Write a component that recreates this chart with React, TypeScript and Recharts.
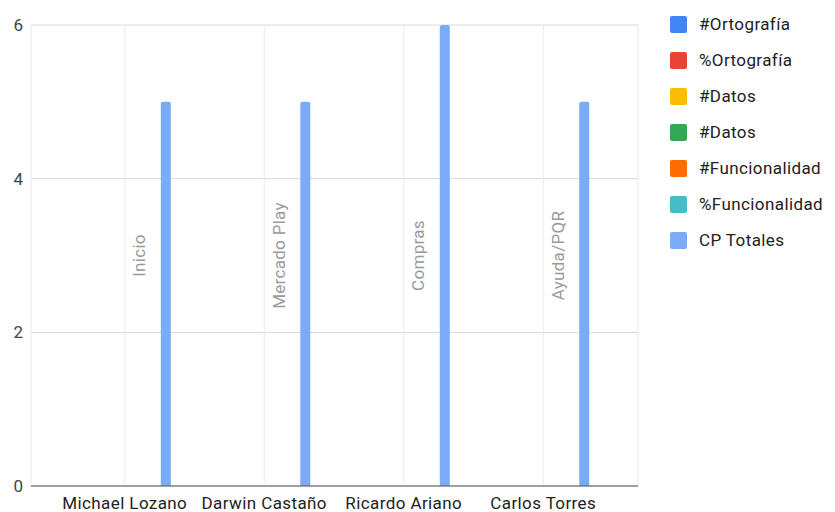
import React from 'react';
import { BarChart, Bar, XAxis, YAxis, CartesianGrid, Legend, LabelList } from 'recharts';

const categories = ['Michael Lozano', 'Darwin Castaño', 'Ricardo Ariano', 'Carlos Torres'];
const pages = ['Inicio', 'Mercado Play', 'Compras', 'Ayuda/PQR'];
const ortografiaNum = [0, 0, 0, 0];
const ortografiaPct = [0, 0, 0, 0];
const datosNum = [0, 0, 0, 0];
const datosNum2 = [0, 0, 0, 0];
const funcionalidadNum = [0, 0, 0, 0];
const funcionalidadPct = [0, 0, 0, 0];
const cpTotales = [5, 5, 6, 5];
const yTicks = [0, 2, 4, 6];

const seriesNames = ['#Ortografía', '%Ortografía', '#Datos', '#Datos', '#Funcionalidad', '%Funcionalidad', 'CP Totales'];
const seriesKeys = ['ortNum', 'ortPct', 'datNum', 'datNum2', 'funNum', 'funPct', 'cp'];
const seriesColors = ['#4285F4', '#EA4335', '#FBBC04', '#34A853', '#FF6D01', '#46BDC6', '#7BAAF7'];

const data = categories.map((c, i) => ({
  name: c,
  page: pages[i],
  ortNum: ortografiaNum[i],
  ortPct: ortografiaPct[i],
  datNum: datosNum[i],
  datNum2: datosNum2[i],
  funNum: funcionalidadNum[i],
  funPct: funcionalidadPct[i],
  cp: cpTotales[i],
}));

const FONT = 'Roboto, Arial, sans-serif';
const PLOT_TOP = 25;
const BAR_SIZE = 10;
const BAR_GAP = 3.8;
// the page labels sit on the #Funcionalidad slot, two slots left of CP Totales
const LABEL_SLOT_SHIFT = 2;

const PageLabel = (props: any) => {
  const vb = props.viewBox && props.viewBox.width !== undefined ? props.viewBox : props;
  const x = Number(vb.x);
  const y = Number(vb.y);
  const w = Number(vb.width);
  const h = Number(vb.height) || 0;
  const cx = x + w / 2 - LABEL_SLOT_SHIFT * (BAR_SIZE + BAR_GAP) + 1;
  const base = y + h;
  const cy = (PLOT_TOP + base) / 2;
  return (
    <text
      x={cx}
      y={cy}
      transform={`rotate(-90 ${cx} ${cy})`}
      textAnchor="middle"
      dominantBaseline="central"
      fill="#9a9a9a"
      fontSize={17}
      letterSpacing={0.3}
      fontFamily={FONT}
    >
      {props.value}
    </text>
  );
};

const renderLegend = (props: any) => {
  const payload = [...(props.payload || [])].sort(
    (a: any, b: any) => seriesKeys.indexOf(a.dataKey) - seriesKeys.indexOf(b.dataKey)
  );
  return (
    <div style={{ width: 197, paddingLeft: 32, boxSizing: 'border-box' }}>
      {payload.map((p: any, i: number) => (
        <div key={i} style={{ display: 'flex', alignItems: 'center', height: 36 }}>
          <span
            style={{
              display: 'inline-block',
              width: 17,
              height: 17,
              background: p.color,
              borderRadius: 2,
              marginRight: 12,
              flexShrink: 0,
            }}
          />
          <span
            style={{
              fontSize: 17,
              color: '#222',
              fontFamily: FONT,
              whiteSpace: 'nowrap',
              letterSpacing: 0.4,
            }}
          >
            {p.value}
          </span>
        </div>
      ))}
    </div>
  );
};

export default function App() {
  return (
    <div style={{ position: 'absolute', left: 0, top: 0, background: '#fff' }}>
      <BarChart
        width={835}
        height={512}
        data={data}
        margin={{ top: PLOT_TOP, right: 0, bottom: 0, left: 0 }}
        barSize={BAR_SIZE}
        barGap={BAR_GAP}
      >
        <CartesianGrid horizontal={true} vertical={false} stroke="#d9d9d9" />
        <CartesianGrid horizontal={false} vertical={true} stroke="#ebebeb" />
        <XAxis
          dataKey="name"
          height={26}
          padding={{ left: 24, right: 25 }}
          tickLine={false}
          axisLine={{ stroke: '#555' }}
          tickMargin={5}
          interval={0}
          tick={{ fontFamily: FONT, fontSize: 17, fill: '#222', letterSpacing: 0.4 }}
        />
        <YAxis
          width={31}
          domain={[0, 6]}
          ticks={yTicks}
          axisLine={false}
          tickLine={false}
          tick={{ fontFamily: FONT, fontSize: 17, fill: '#444' }}
        />
        <Legend
          layout="vertical"
          align="right"
          verticalAlign="top"
          content={renderLegend}
          wrapperStyle={{ top: 6, right: 0 }}
        />
        {seriesKeys.map((k, i) => (
          <Bar
            key={k}
            dataKey={k}
            name={seriesNames[i]}
            fill={seriesColors[i]}
            radius={[2, 2, 0, 0]}
            isAnimationActive={false}
          >
            {k === 'cp' ? <LabelList dataKey="page" content={PageLabel} /> : null}
          </Bar>
        ))}
      </BarChart>
    </div>
  );
}
